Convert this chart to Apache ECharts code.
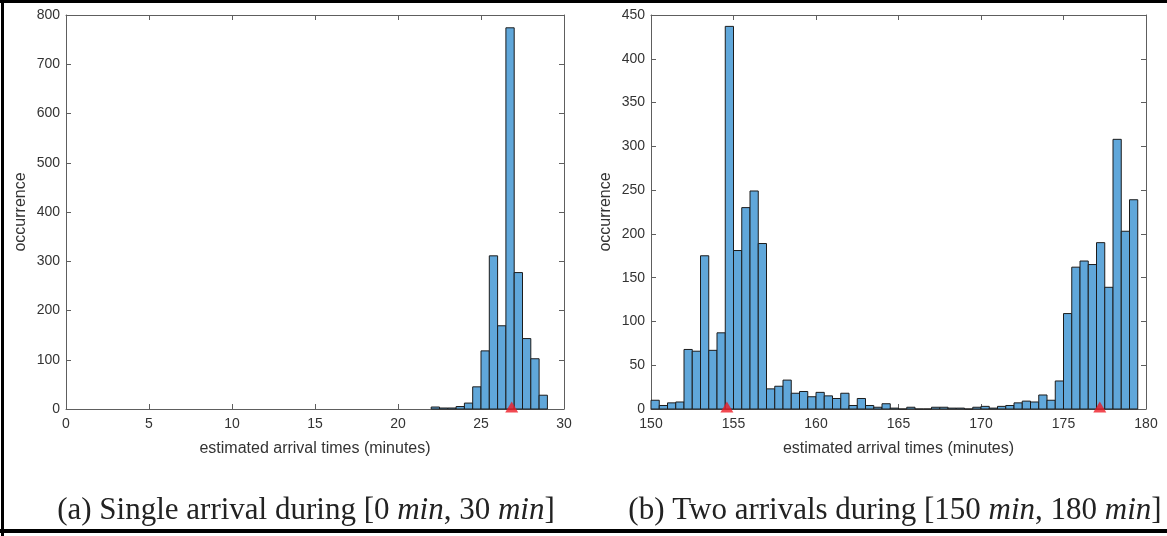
<!DOCTYPE html>
<html><head><meta charset="utf-8">
<script src="https://cdn.jsdelivr.net/npm/echarts@6/dist/echarts.min.js"></script>
<style>html,body{margin:0;padding:0;background:#fff;}#c{width:1167px;height:536px;}</style>
</head><body><div id="c"></div>
<script>
// ---- data ----
const binWidth = 0.5;
const leftBinStart = 22;
const leftCounts = [4, 2, 2, 5, 12, 45, 118, 311, 169, 774, 277, 143, 102, 28];
const leftMarkers = [26.85];
const leftXTicks = [0, 5, 10, 15, 20, 25, 30];
const leftYTicks = [0, 100, 200, 300, 400, 500, 600, 700, 800];

const rightBinStart = 150;
const rightCounts = [10, 4, 7, 8, 68, 66, 175, 67, 87, 437,
                     181, 230, 249, 189, 23, 26, 33, 18, 20, 14,
                     19, 15, 12, 18, 4, 12, 4, 2, 6, 1,
                     0, 2, 0, 0, 2, 2, 1, 1, 0, 2,
                     3, 1, 3, 4, 7, 9, 8, 16, 10, 32,
                     109, 162, 169, 165, 190, 139, 308, 203, 239];
const rightMarkers = [154.6, 177.2];
const rightXTicks = [150, 155, 160, 165, 170, 175, 180];
const rightYTicks = [0, 50, 100, 150, 200, 250, 300, 350, 400, 450];

const xName = 'estimated arrival times (minutes)';
const yName = 'occurrence';
const captionA = '(a) Single arrival during [0 {i|min}, 30 {i|min}]';
const captionB = '(b) Two arrivals during [150 {i|min}, 180 {i|min}]';

// ---- build ----
function bins(start, counts) {
  return counts.map((c, i) => [start + i * binWidth, start + (i + 1) * binWidth, c]);
}
const SANS = '"Liberation Sans", Arial, Helvetica, sans-serif';
const SERIF = '"Liberation Serif", "Times New Roman", serif';
const AXC = '#5e5e5e';
const TXC = '#333333';
const FILL = '#60a7da';

function renderBar(params, api) {
  const a = api.coord([api.value(0), api.value(2)]);
  const b = api.coord([api.value(1), 0]);
  return {
    type: 'rect',
    shape: { x: a[0], y: a[1], width: b[0] - a[0], height: b[1] - a[1] },
    style: { fill: FILL, stroke: '#1c1c1c', lineWidth: 1 }
  };
}

function mkX(grid, ticks, pos, showLabel, name) {
  return {
    type: 'value', gridIndex: grid, position: pos,
    min: ticks[0], max: ticks[ticks.length - 1], interval: ticks[1] - ticks[0],
    splitLine: { show: false },
    axisLine: { show: true, onZero: false, lineStyle: { color: AXC, width: 1 } },
    axisTick: { show: true, inside: true, length: 5, lineStyle: { color: AXC } },
    axisLabel: { show: showLabel, color: TXC, fontFamily: SANS, fontSize: 14, margin: 8 },
    name: name || '', nameLocation: 'middle', nameGap: 32,
    nameTextStyle: { color: TXC, fontFamily: SANS, fontSize: 16 }
  };
}
function mkY(grid, ticks, pos, showLabel, name) {
  return {
    type: 'value', gridIndex: grid, position: pos,
    min: ticks[0], max: ticks[ticks.length - 1], interval: ticks[1] - ticks[0],
    splitLine: { show: false },
    axisLine: { show: true, onZero: false, lineStyle: { color: AXC, width: 1 } },
    axisTick: { show: true, inside: true, length: 5, lineStyle: { color: AXC } },
    axisLabel: { show: showLabel, color: TXC, fontFamily: SANS, fontSize: 14, margin: 6 },
    name: name || '', nameLocation: 'middle', nameGap: 37,
    nameTextStyle: { color: TXC, fontFamily: SANS, fontSize: 16 }
  };
}
function markerSeries(xi, yi, xs) {
  return {
    type: 'scatter', xAxisIndex: xi, yAxisIndex: yi, clip: false, z: 5,
    symbol: 'triangle', symbolSize: [13, 11], symbolOffset: [0, -2],
    itemStyle: { color: '#ee1c25' },
    data: xs.map(x => [x, 0])
  };
}
function caption(text, cx) {
  return {
    text: text, left: cx, top: 495, textAlign: 'center', padding: 0,
    textStyle: { fontFamily: SERIF, fontSize: 31, fontWeight: 'normal', color: '#222',
      rich: { i: { fontFamily: SERIF, fontSize: 31, fontStyle: 'italic', color: '#222' } } }
  };
}

const chart = echarts.init(document.getElementById('c'), null, { renderer: 'canvas' });
chart.setOption({
  animation: false,
  backgroundColor: '#fff',
  grid: [
    { left: 66, right: 603, top: 15, bottom: 127 },
    { left: 651, right: 21, top: 15, bottom: 127 }
  ],
  xAxis: [
    mkX(0, leftXTicks, 'bottom', true, xName),
    mkX(0, leftXTicks, 'top', false),
    mkX(1, rightXTicks, 'bottom', true, xName),
    mkX(1, rightXTicks, 'top', false)
  ],
  yAxis: [
    mkY(0, leftYTicks, 'left', true, yName),
    mkY(0, leftYTicks, 'right', false),
    mkY(1, rightYTicks, 'left', true, yName),
    mkY(1, rightYTicks, 'right', false)
  ],
  title: [caption(captionA, 306), caption(captionB, 895)],
  graphic: [
    { type: 'rect', shape: { x: 0, y: 0, width: 1167, height: 3 }, style: { fill: '#000' } },
    { type: 'rect', shape: { x: 1, y: 0, width: 3, height: 536 }, style: { fill: '#000' } },
    { type: 'rect', shape: { x: 0, y: 529, width: 1167, height: 4 }, style: { fill: '#000' } }
  ],
  series: [
    { type: 'custom', xAxisIndex: 0, yAxisIndex: 0, renderItem: renderBar,
      encode: { x: [0, 1], y: 2 }, data: bins(leftBinStart, leftCounts) },
    markerSeries(0, 0, leftMarkers),
    { type: 'custom', xAxisIndex: 2, yAxisIndex: 2, renderItem: renderBar,
      encode: { x: [0, 1], y: 2 }, data: bins(rightBinStart, rightCounts) },
    markerSeries(2, 2, rightMarkers)
  ]
});
</script></body></html>
